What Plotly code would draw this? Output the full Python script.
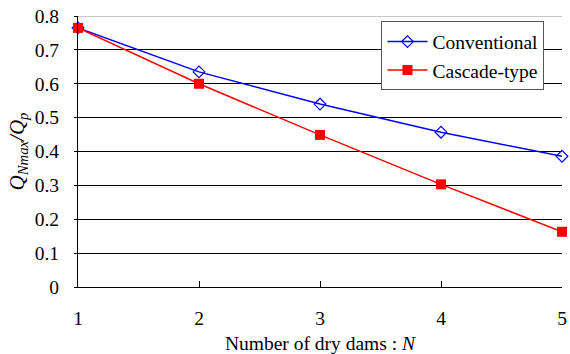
import plotly.graph_objects as go

# Number of dry dams and peak discharge ratios
dams = [1, 2, 3, 4, 5]
conventional = [0.765, 0.635, 0.540, 0.457, 0.386]
cascade = [0.765, 0.600, 0.449, 0.303, 0.163]

x_ticks = [1, 2, 3, 4, 5]
y_ticks = [0, 0.1, 0.2, 0.3, 0.4, 0.5, 0.6, 0.7, 0.8]
y_labels = ["0", "0.1", "0.2", "0.3", "0.4", "0.5", "0.6", "0.7", "0.8"]

FONT = "Liberation Serif, Times New Roman, serif"
FS = 19.5

fig = go.Figure()
fig.add_trace(go.Scatter(
    x=dams, y=conventional, name="Conventional", mode="lines+markers",
    line=dict(color="#0000FF", width=1.5),
    marker=dict(symbol="diamond-open", size=9, color="#0000FF", line=dict(width=1.2)),
    cliponaxis=False,
))
fig.add_trace(go.Scatter(
    x=dams, y=cascade, name="Cascade-type", mode="lines+markers",
    line=dict(color="#FF0000", width=1.5),
    marker=dict(symbol="square", size=10, color="#FF0000"),
    cliponaxis=False,
))

# light top border of the plotting area
fig.add_shape(type="line", xref="paper", yref="y", x0=0, x1=1, y0=0.8, y1=0.8,
              line=dict(color="#C8C8C8", width=2), layer="below")

fig.update_layout(
    width=570, height=354,
    margin=dict(l=78, r=3, t=16, b=67),
    paper_bgcolor="white", plot_bgcolor="white",
    font=dict(family=FONT, size=FS, color="black"),
    showlegend=True,
    legend=dict(
        x=0.627, y=0.98, xanchor="left", yanchor="top",
        bgcolor="white", bordercolor="#555555", borderwidth=1,
        font=dict(family=FONT, size=FS, color="black"),
        tracegroupgap=0, itemwidth=40,
    ),
    xaxis=dict(
        range=[1, 5], tickvals=x_ticks, ticktext=[str(v) for v in x_ticks],
        showgrid=False, zeroline=False,
        showline=True, linecolor="black", linewidth=1.2,
        ticks="inside", ticklen=6, tickcolor="black",
        tickfont=dict(family=FONT, size=FS),
        ticklabelstandoff=13, ticklabeloverflow="allow",
        title=dict(text="Number of dry dams : <i>N</i>", standoff=8,
                   font=dict(family=FONT, size=FS)),
    ),
    yaxis=dict(
        range=[0, 0.8], tickvals=y_ticks, ticktext=y_labels,
        showgrid=True, gridcolor="black", gridwidth=1,
        zeroline=False,
        showline=True, linecolor="black", linewidth=1.2,
        ticks="outside", ticklen=3, tickcolor="black",
        tickfont=dict(family=FONT, size=FS),
        ticklabelstandoff=11,
        title=dict(text="<i>Q</i><sub><i>Nmax</i></sub><i>/Q</i><sub><i>p</i></sub>",
                   standoff=4, font=dict(family=FONT, size=21)),
    ),
)

fig.write_html("out.html")
